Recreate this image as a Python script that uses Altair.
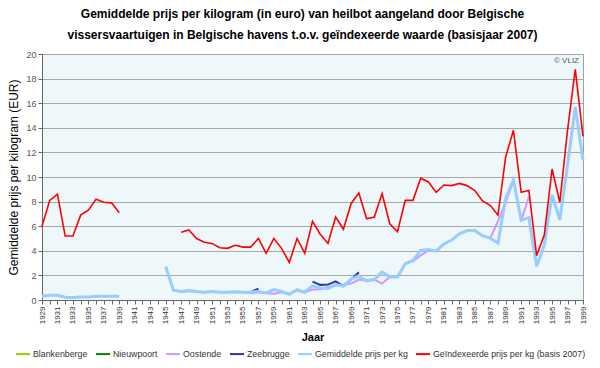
import altair as alt
import pandas as pd

N = None
years = list(range(1929, 2000))

series_names = [
    "Blankenberge",
    "Nieuwpoort",
    "Oostende",
    "Zeebrugge",
    "Gemiddelde prijs per kg",
    "Geïndexeerde prijs per kg (basis 2007)",
]
series_colors = ["#99CC00", "#008000", "#CC99FF", "#333399", "#99CCFF", "#FF0000"]

blankenberge = [N] * 71
nieuwpoort = [N] * 71

oostende = [N] * 17 + [
    0.80, 0.68, 0.74, 0.68, 0.62, 0.68, 0.62, 0.62, 0.66, 0.62,
    0.56, 0.62, 0.56, 0.50, 0.62, 0.47, 0.78, 0.62, 0.85, 0.88,
    1.05, 1.17, 1.25, 1.33, 1.66, 1.58, 1.66, 1.33, 1.88, 1.88,
    2.96, 3.15, 3.63, 4.03, 3.98, 4.55, 4.87, 5.38, 5.65, 5.65,
    5.22, 5.03, 6.40, 7.95, 9.70, 6.45, 8.40,
] + [N] * 7

zeebrugge = [N] * 27 + [0.63, 0.93] + [N] * 6 + [
    1.50, 1.23, 1.25, 1.52, 1.12, 1.66, 2.25,
] + [N] * 29

gemiddeld = [0.30, 0.38, 0.38, 0.22, 0.20, 0.25, 0.25, 0.30, 0.30, 0.30, 0.30] + [N] * 5 + [
    2.72, 0.80, 0.70, 0.78, 0.70, 0.64, 0.70, 0.64, 0.64, 0.68,
    0.64, 0.64, 0.70, 0.58, 0.85, 0.70, 0.47, 0.85, 0.63, 1.15,
    0.98, 0.93, 1.25, 1.12, 1.70, 1.95, 1.55, 1.66, 2.28, 1.88,
    1.88, 2.96, 3.22, 4.03, 4.11, 3.98, 4.55, 4.87, 5.38, 5.65,
    5.65, 5.22, 5.03, 4.63, 8.27, 9.76, 6.46, 6.71, 2.74, 4.49,
    8.54, 6.52, 10.97, 15.70, 11.38,
]

geindexeerd = [6.0, 8.1, 8.6, 5.2, 5.2, 6.9, 7.3, 8.2, 7.95, 7.9, 7.1] + [N] * 7 + [
    5.5, 5.7, 5.0, 4.7, 4.6, 4.25, 4.2, 4.45, 4.3, 4.3,
    5.0, 3.8, 5.0, 4.2, 3.05, 5.0, 3.8, 6.4, 5.35, 4.6,
    6.75, 5.75, 7.85, 8.7, 6.6, 6.75, 8.65, 6.2, 5.55, 8.1,
    8.1, 9.9, 9.6, 8.75, 9.35, 9.3, 9.48, 9.3, 8.9, 8.05,
    7.7, 6.9, 11.65, 13.8, 8.75, 8.9, 3.6, 5.3, 10.65, 7.95,
    13.8, 18.75, 13.3,
]

y_ticks = list(range(0, 21, 2))

all_series = [blankenberge, nieuwpoort, oostende, zeebrugge, gemiddeld, geindexeerd]
rows = []
for name, vals in zip(series_names, all_series):
    seg = 0
    for yr, v in zip(years, vals):
        if v is None:
            seg += 1
            continue
        rows.append({"jaar": yr, "prijs": v, "reeks": name, "seg": f"{name}-{seg}"})
df = pd.DataFrame(rows)

FONT = "Liberation Sans"

color = alt.Color(
    "reeks:N",
    scale=alt.Scale(domain=series_names, range=series_colors),
    legend=alt.Legend(
        title=None,
        orient="none",
        legendX=-27,
        legendY=292,
        direction="horizontal",
        symbolType="stroke",
        symbolSize=196,
        symbolStrokeWidth=2,
        labelFontSize=8.8,
        labelFont=FONT,
        labelColor="#333333",
        labelOffset=2,
        columnPadding=4,
        labelLimit=400,
    ),
)

x = alt.X(
    "jaar:Q",
    scale=alt.Scale(domain=[1929, 1999], nice=False, zero=False),
    axis=alt.Axis(
        values=years,
        labelExpr="datum.value % 2 == 1 ? toString(datum.value) : ''",
        labelAngle=270,
        labelAlign="right",
        labelBaseline="middle",
        labelFontSize=8,
        labelColor="#333333",
        labelOverlap=False,
        labelPadding=2,
        tickSize=4,
        tickColor="#666666",
        domainColor="#666666",
        grid=False,
        title="Jaar",
        titleFontSize=11,
        titleFontWeight="bold",
        titlePadding=8,
        titleColor="#000000",
    ),
)
y = alt.Y(
    "prijs:Q",
    scale=alt.Scale(domain=[0, 20], nice=False),
    axis=alt.Axis(
        values=y_ticks,
        labelFontSize=9,
        labelColor="#555555",
        tickSize=4,
        tickColor="#666666",
        domainColor="#666666",
        gridColor="#A8A8A8",
        title="Gemiddelde prijs per kilogram (EUR)",
        titleFontSize=12,
        titleFontWeight="normal",
        titleColor="#000000",
        titlePadding=5,
    ),
)

base = alt.Chart(df).encode(x=x, y=y, color=color, detail="seg:N")

ports = base.transform_filter(
    alt.FieldOneOfPredicate(field="reeks", oneOf=series_names[:4])
).mark_line(strokeWidth=2)
gem = base.transform_filter(alt.datum.reeks == series_names[4]).mark_line(strokeWidth=3)
red = base.transform_filter(alt.datum.reeks == series_names[5]).mark_line(strokeWidth=1.6)

credit = alt.Chart(pd.DataFrame({"t": ["© VLIZ"]})).mark_text(
    align="right", baseline="top", fontSize=8, color="#555555", font=FONT
).encode(x=alt.value(537), y=alt.value(3), text="t:N")

chart = (
    alt.layer(ports, gem, red, credit)
    .properties(
        width=541,
        height=246,
        autosize=alt.AutoSizeParams(type="none"),
        padding={"left": 34, "top": 46, "right": 9, "bottom": 60},
        title=alt.TitleParams(
            [
                "Gemiddelde prijs per kilogram (in euro) van heilbot aangeland door Belgische",
                "vissersvaartuigen in Belgische havens t.o.v. geïndexeerde waarde (basisjaar 2007)",
            ],
            font=FONT,
            fontSize=12,
            fontWeight="bold",
            anchor="middle",
            lineHeight=21,
            offset=8,
            dx=-10,
            color="#000000",
        ),
    )
    .configure(font=FONT)
    .configure_view(fill="#EEF8FA", stroke="#A0A0A0")
)

chart.save("out.html", embed_options={"renderer": "svg", "actions": False})
